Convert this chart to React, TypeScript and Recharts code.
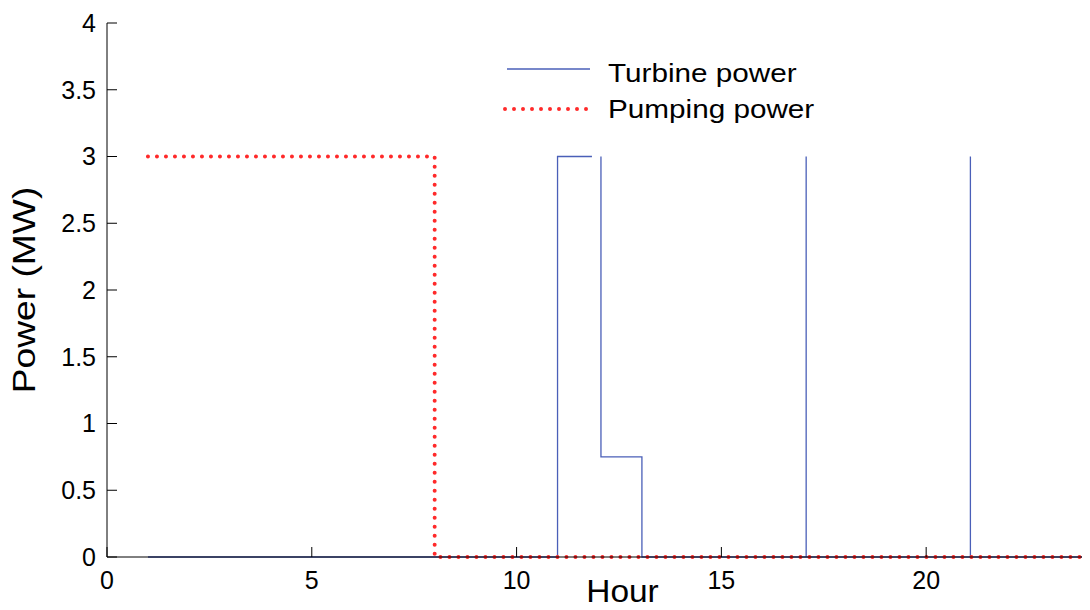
import React from 'react';
import { LineChart, Line, XAxis, YAxis, Legend } from 'recharts';

// hours and MW
const turbineHours = [1, 11, 11, 11.84, 11.9, 12.06, 12.06, 13.06, 13.06, 17.07, 17.07, 17.07, 21.08, 21.08, 21.08, 24];
const turbinePower: (number | null)[] = [0, 0, 3, 3, null, 3, 0.75, 0.75, 0, 0, 3, 0, 0, 3, 0, 0];

const pumpingHours = [1, 8, 8, 24];
const pumpingPower = [3, 3, 0, 0];

const xTicks = [0, 5, 10, 15, 20];
const yTicks = [0, 0.5, 1, 1.5, 2, 2.5, 3, 3.5, 4];

const turbineData = turbineHours.map((h, i) => ({ hour: h, power: turbinePower[i] }));
const pumpingData = pumpingHours.map((h, i) => ({ hour: h, power: pumpingPower[i] }));

const FONT = '"Liberation Sans", Arial, sans-serif';
const BLUE = '#4a5fb8';
const RED = '#ff2a2a';

const HourLabel = (props: any) => {
  const { viewBox } = props;
  const cx = viewBox.x + viewBox.width / 2 + 24;
  const cy = viewBox.y + 45;
  return (
    <text x={0} y={0} transform={`translate(${cx} ${cy}) scale(1.08 1)`} textAnchor="middle"
      fontSize={31} fontFamily={FONT} fill="#000">
      Hour
    </text>
  );
};

const PowerLabel = (props: any) => {
  const { viewBox } = props;
  const cx = viewBox.x + 35;
  const cy = viewBox.y + viewBox.height / 2;
  return (
    <text x={0} y={0} textAnchor="middle" transform={`translate(${cx} ${cy}) rotate(-90) scale(1.2 1)`}
      fontSize={31} fontFamily={FONT} fill="#000">
      Power (MW)
    </text>
  );
};

const labelStyle: React.CSSProperties = {
  display: 'inline-block',
  transform: 'scaleX(1.12)',
  transformOrigin: 'left center',
  whiteSpace: 'nowrap',
};

const LegendBox = () => (
  <div style={{ fontFamily: FONT, fontSize: 26.5, color: '#000' }}>
    <div style={{ display: 'flex', alignItems: 'center', height: 36 }}>
      <svg width={108} height={36}>
        <line x1={7} y1={14} x2={90} y2={14} stroke={BLUE} strokeWidth={1.3} />
      </svg>
      <span style={labelStyle}>Turbine power</span>
    </div>
    <div style={{ display: 'flex', alignItems: 'center', height: 36 }}>
      <svg width={108} height={36}>
        <line x1={5} y1={18} x2={90} y2={18} stroke={RED} strokeWidth={4}
          strokeDasharray="0 9" strokeLinecap="round" />
      </svg>
      <span style={labelStyle}>Pumping power</span>
    </div>
  </div>
);

export default function App() {
  return (
    <div style={{ margin: '-8px 0 0 -8px', width: 1090, height: 610, background: '#fff' }}>
      <LineChart width={1090} height={610} margin={{ top: 23, right: 0, bottom: 0, left: 0 }}>
        <XAxis
          type="number"
          dataKey="hour"
          domain={[0, 24]}
          ticks={xTicks}
          allowDataOverflow
          height={53}
          tickSize={-10}
          tickMargin={24}
          axisLine={{ stroke: '#000' }}
          tickLine={{ stroke: '#000' }}
          tick={{ fill: '#000', fontSize: 25, fontFamily: FONT }}
          label={<HourLabel />}
        />
        <YAxis
          type="number"
          domain={[0, 4]}
          ticks={yTicks}
          width={107}
          tickSize={-10}
          tickMargin={21}
          axisLine={{ stroke: '#000' }}
          tickLine={{ stroke: '#000' }}
          tick={{ fill: '#000', fontSize: 25, fontFamily: FONT }}
          label={<PowerLabel />}
        />
        <Legend
          layout="vertical"
          align="center"
          verticalAlign="middle"
          content={<LegendBox />}
          wrapperStyle={{ top: 55, left: 500, width: 'auto' }}
        />
        <Line data={turbineData} dataKey="power" type="linear" stroke={BLUE} strokeWidth={1.3}
          dot={false} activeDot={false} isAnimationActive={false} connectNulls={false} />
        <Line data={pumpingData} dataKey="power" type="linear" stroke={RED} strokeWidth={4}
          strokeDasharray="0 9" strokeLinecap="round" dot={false} activeDot={false}
          isAnimationActive={false} />
      </LineChart>
    </div>
  );
}
